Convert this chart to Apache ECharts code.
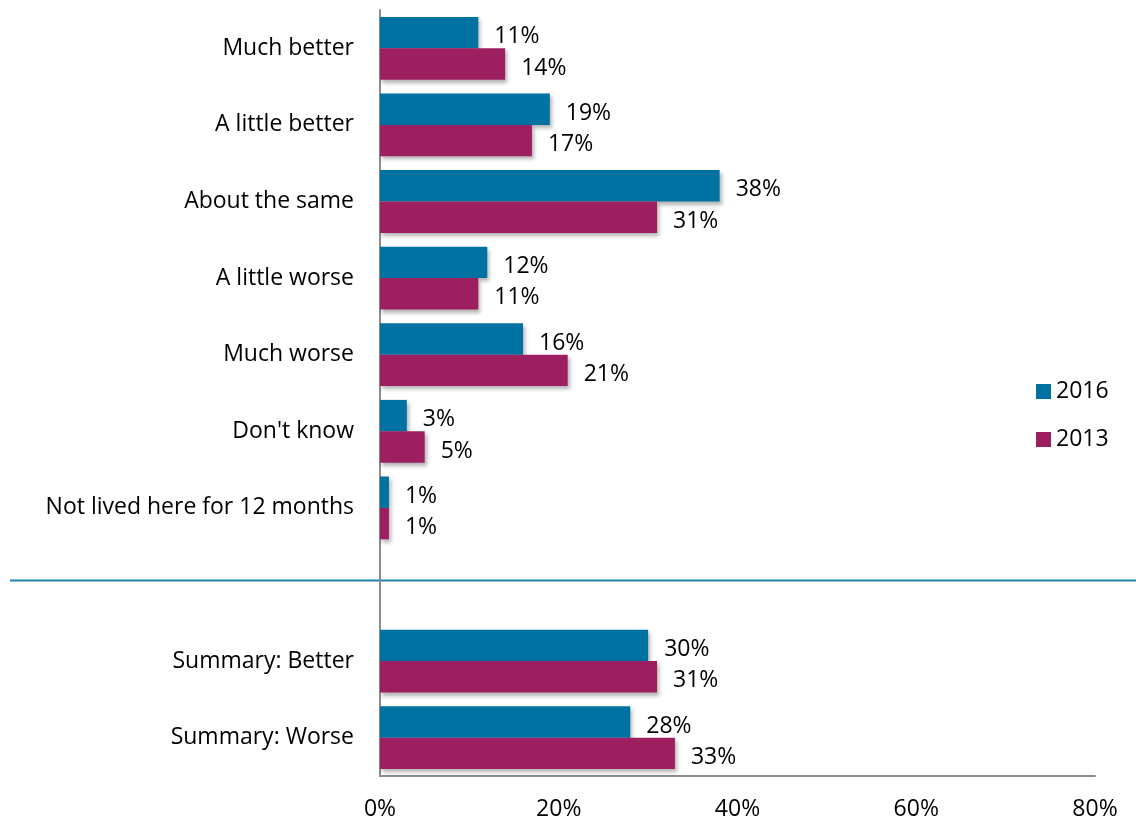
<!DOCTYPE html>
<html>
<head>
<meta charset="utf-8">
<script src="https://cdn.jsdelivr.net/npm/echarts@6/dist/echarts.min.js"></script>
<style>
  html, body { margin: 0; padding: 0; background: #fff; }
  #chart { width: 1136px; height: 821px; }
</style>
</head>
<body>
<div id="chart"></div>
<script>
// Response categories (blank entry separates the detail rows from the summary rows)
const categories = [
  'Much better', 'A little better', 'About the same', 'A little worse',
  'Much worse', "Don't know", 'Not lived here for 12 months', '',
  'Summary: Better', 'Summary: Worse'
];
const values2016 = [11, 19, 38, 12, 16, 3, 1, null, 30, 28];
const values2013 = [14, 17, 31, 11, 21, 5, 1, null, 31, 33];
const seriesNames = ['2016', '2013'];
const xTicks = [0, 20, 40, 60, 80];

const FONT = '"Open Sans", Lato, sans-serif';
const FS = 23;
const colors = ['#0072A2', '#9D1F60'];
const barShadow = {
  shadowBlur: 4, shadowOffsetX: 2, shadowOffsetY: 3, shadowColor: 'rgba(0,0,0,0.3)'
};

function makeSeries(name, data, color) {
  return {
    name: name,
    type: 'bar',
    data: data,
    barGap: '0%',
    barCategoryGap: '18%',
    itemStyle: Object.assign({ color: color }, barShadow),
    label: {
      show: true,
      position: 'right',
      distance: 16,
      offset: [0, 4],
      color: '#000',
      fontFamily: FONT,
      fontSize: FS,
      formatter: p => p.value == null ? '' : p.value + '%'
    }
  };
}

const chart = echarts.init(document.getElementById('chart'));
chart.setOption({
  animation: false,
  color: colors,
  grid: { left: 380, right: 41, top: 10, bottom: 45, containLabel: false },
  legend: {
    data: seriesNames,
    orient: 'vertical',
    left: 1031,
    top: 375,
    itemWidth: 15,
    itemHeight: 15,
    itemGap: 25,
    icon: 'rect',
    textStyle: { fontFamily: FONT, fontSize: FS, color: '#000' }
  },
  xAxis: {
    type: 'value',
    min: xTicks[0],
    max: xTicks[xTicks.length - 1],
    interval: xTicks[1] - xTicks[0],
    axisLine: { show: true, lineStyle: { color: '#8c8c8c', width: 2 } },
    axisTick: { show: false },
    splitLine: { show: false },
    axisLabel: {
      margin: 22,
      fontFamily: FONT, fontSize: FS, color: '#000',
      formatter: v => v + '%'
    }
  },
  yAxis: {
    type: 'category',
    data: categories,
    inverse: true,
    axisLine: { show: true, lineStyle: { color: '#8c8c8c', width: 2 } },
    axisTick: { show: false },
    axisLabel: {
      margin: 26,
      padding: [5, 0, 0, 0],
      fontFamily: FONT, fontSize: FS, color: '#000'
    }
  },
  series: [
    makeSeries(seriesNames[0], values2016, colors[0]),
    makeSeries(seriesNames[1], values2013, colors[1])
  ]
});

// Separator rule across the blank category row, slightly above its centre
const sepY = chart.convertToPixel({ yAxisIndex: 0 }, '') - 4;
chart.setOption({
  graphic: [{
    type: 'line',
    shape: { x1: 10, y1: sepY, x2: 1136, y2: sepY },
    style: { stroke: '#1E84B4', lineWidth: 2 },
    z: 0
  }]
});
</script>
</body>
</html>
